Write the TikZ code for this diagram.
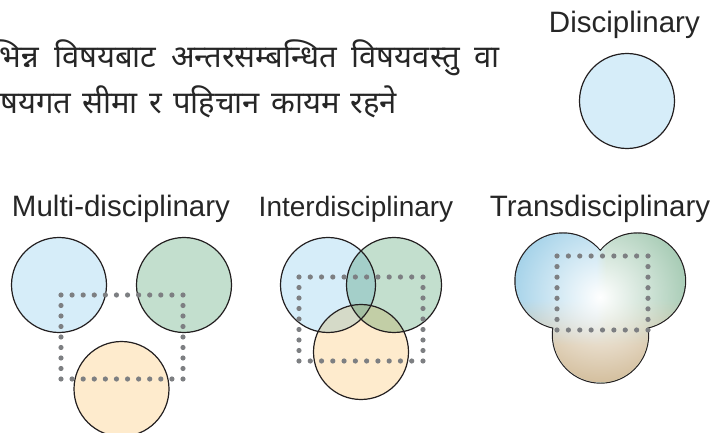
\documentclass[tikz,border=0pt]{standalone}
\usepackage{fontspec}
\setmainfont{Liberation Sans}
\newfontfamily\devfont[Script=Devanagari]{Noto Sans}
\usetikzlibrary{fadings}
\definecolor{cBlue}{RGB}{214,237,249}
\definecolor{cGreen}{RGB}{195,223,206}
\definecolor{cOrange}{RGB}{254,235,205}
\definecolor{cBG}{RGB}{164,207,201}
\definecolor{cBO}{RGB}{213,218,200}
\definecolor{cGO}{RGB}{194,206,166}
\definecolor{cBGO}{RGB}{163,191,162}
\definecolor{tBlue}{RGB}{164,210,233}
\definecolor{tGreen}{RGB}{166,203,180}
\definecolor{tTan}{RGB}{210,188,153}
\definecolor{dotc}{RGB}{125,127,130}
\definecolor{linec}{RGB}{35,31,32}
\tikzfading[name=glowfade, inner color=transparent!0, outer color=transparent!100]
\tikzfading[name=downfade, top color=transparent!100, bottom color=transparent!0]
\tikzset{
  circ/.style={draw=linec, line width=1.2pt},
  lab/.style={font=\fontsize{29.5}{33}\selectfont, text=black!85, inner sep=0pt},
  devtext/.style={font=\devfont\fontsize{31}{35}\selectfont, text=black!85, inner sep=0pt},
  dotdot/.style={fill=dotc}
}
\newcommand\dotrect[4]{%
  \pgfmathsetmacro\dw{#3-#1}%
  \pgfmathsetmacro\dh{#4-#2}%
  \pgfmathtruncatemacro\nx{round(\dw/11.3)}%
  \pgfmathtruncatemacro\ny{round(\dh/10.6)}%
  \pgfmathtruncatemacro\nyy{\ny-1}%
  \foreach \i in {0,...,\nx}{%
    \fill[dotdot] ({#1+\i*\dw/\nx},#2) circle (2.6pt);
    \fill[dotdot] ({#1+\i*\dw/\nx},#4) circle (2.6pt);
  }%
  \foreach \j in {1,...,\nyy}{%
    \fill[dotdot] (#1,{#2+\j*\dh/\ny}) circle (2.6pt);
    \fill[dotdot] (#3,{#2+\j*\dh/\ny}) circle (2.6pt);
  }%
}
\begin{document}
\begin{tikzpicture}[x=1pt,y=-1pt]
\useasboundingbox (0,0) rectangle (724,433);
\clip (0,0) rectangle (724,433);
% Nepali text
\node[devtext, anchor=base east] (line1) at (500,68)
  {\hbox to 508pt{भिन्न\hfill विषयबाट\hfill अन्तरसम्बन्धित\hfill विषयवस्तु\hfill वा}};
\node[devtext, anchor=base west] (line2) at (0,114)
  {\hbox to 397pt{\llap{वि}षयगत\hfill सीमा\hfill र\hfill पहिचान\hfill कायम\hfill रहने}};
% Disciplinary
\node[lab, anchor=base east] (tDisc) at (700,33) {Disciplinary};
\draw[circ, fill=cBlue] (627,101) circle (47.5pt);
% Multi-disciplinary
\node[lab, anchor=base] (tMulti) at (121,217) {Multi-disciplinary};
\draw[circ, fill=cBlue] (59,285) circle (47.5pt);
\draw[circ, fill=cGreen] (184,285) circle (47.5pt);
\draw[circ, fill=cOrange] (121.5,389) circle (47.5pt);
\dotrect{61}{295}{183}{379}
% Interdisciplinary
\node[lab, anchor=base, font=\fontsize{28}{32}\selectfont] (tInter) at (356,217) {Interdisciplinary};
\fill[cBlue] (328,285) circle (47.5pt);
\fill[cGreen] (394,285) circle (47.5pt);
\fill[cOrange] (361,352) circle (47.5pt);
\begin{scope}
  \clip (328,285) circle (47.5pt);
  \fill[cBG] (394,285) circle (47.5pt);
  \fill[cBO] (361,352) circle (47.5pt);
\end{scope}
\begin{scope}
  \clip (394,285) circle (47.5pt);
  \fill[cGO] (361,352) circle (47.5pt);
  \clip (328,285) circle (47.5pt);
  \fill[cBGO] (361,352) circle (47.5pt);
\end{scope}
\draw[circ] (328,285) circle (47.5pt);
\draw[circ] (394,285) circle (47.5pt);
\draw[circ] (361,352) circle (47.5pt);
\dotrect{299}{277}{423}{361}
% Transdisciplinary
\node[lab, anchor=base] (tTrans) at (600,217) {Transdisciplinary};
\draw[draw=linec, line width=2.4pt] (563,281) circle (47.5pt) (637.5,281) circle (47.5pt) (600.5,335) circle (47.5pt);
\begin{scope}
  \clip (563,281) circle (47.5pt) (637.5,281) circle (47.5pt) (600.5,335) circle (47.5pt);
  \fill[tBlue] (500,220) rectangle (601,400);
  \fill[tGreen] (601,220) rectangle (700,400);
  \shade[left color=tBlue, right color=tGreen] (596,220) rectangle (606,400);
  \fill[tTan, path fading=downfade] (500,300) rectangle (700,345);
  \fill[tTan] (500,344.5) rectangle (700,400);
  \fill[white, path fading=glowfade] (600,297) circle (90pt);
\end{scope}
\dotrect{557}{256}{648}{330}
\end{tikzpicture}
\end{document}
